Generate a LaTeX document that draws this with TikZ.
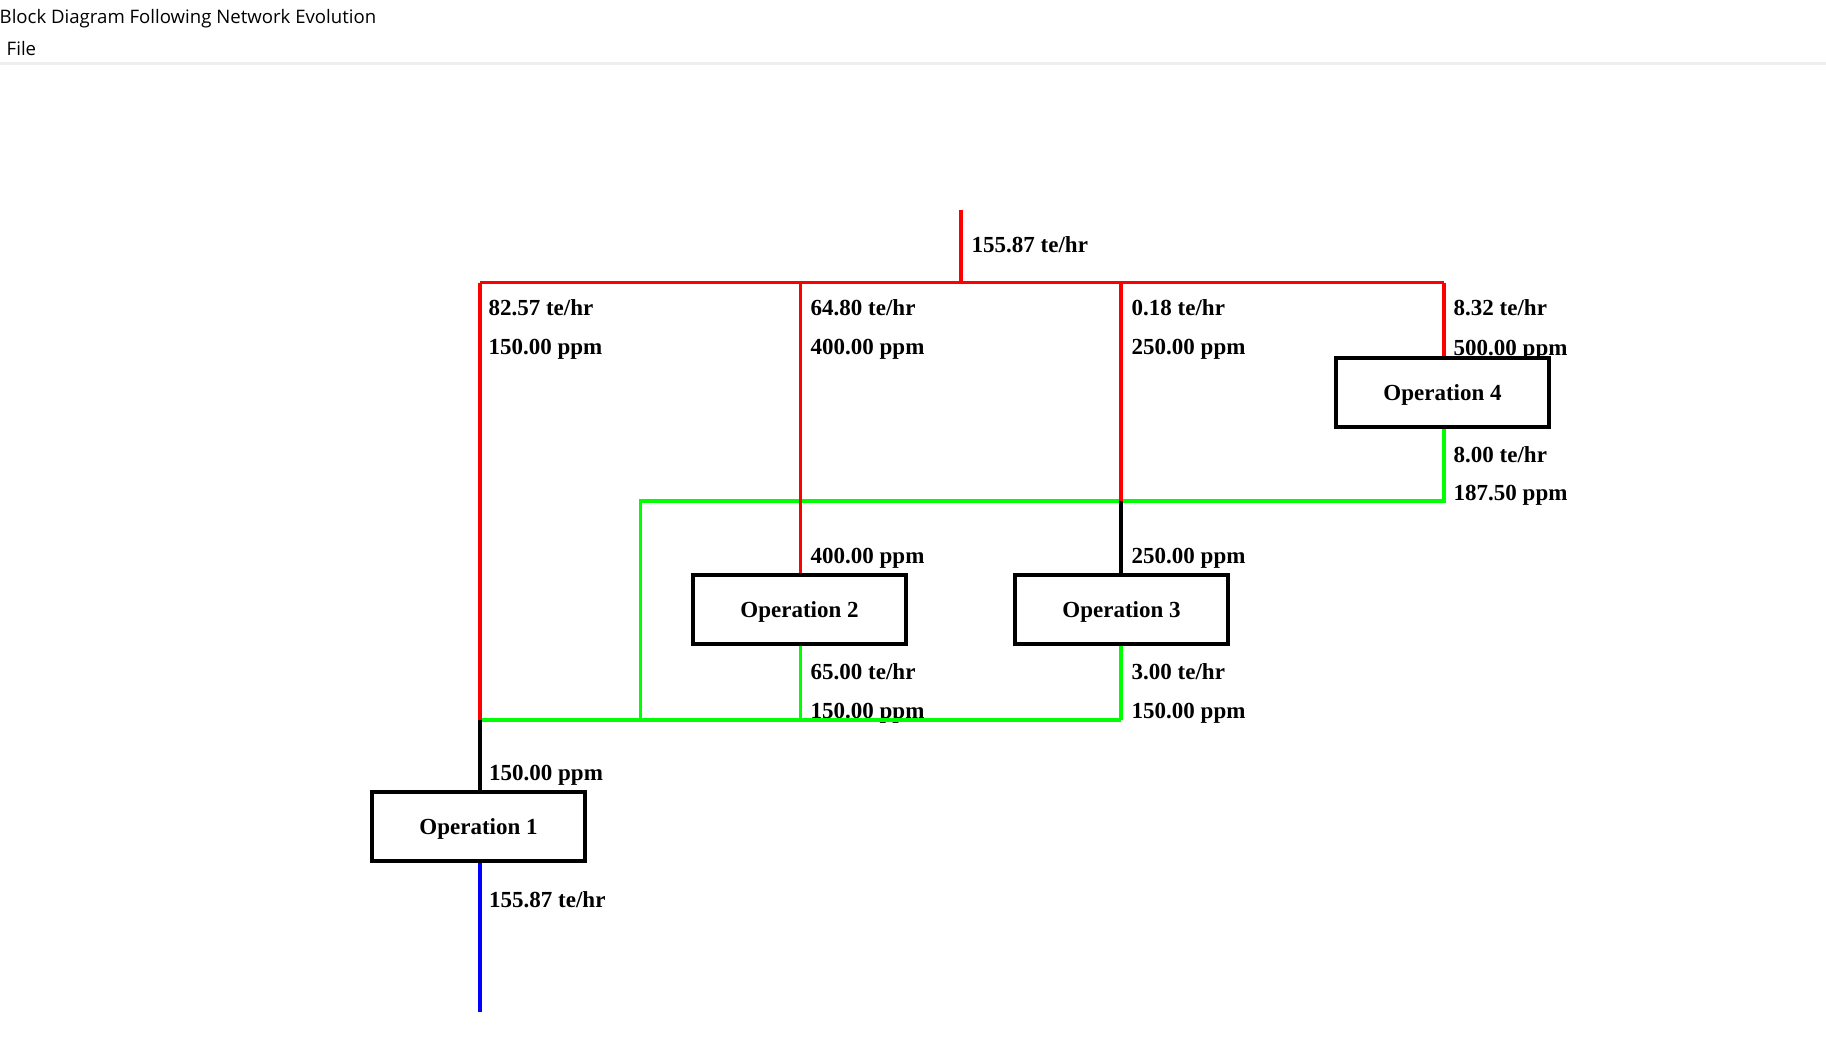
\documentclass[tikz,border=0pt]{standalone}
\usepackage{fontspec}
\setmainfont{Liberation Serif}
\newfontfamily\uifont{Open Sans}
\definecolor{pipered}{RGB}{255,0,0}
\definecolor{pipegreen}{RGB}{0,255,0}
\definecolor{pipeblue}{RGB}{0,0,255}
\definecolor{sepgray}{RGB}{238,238,238}
\begin{document}
\begin{tikzpicture}[x=1pt,y=-1pt,
  pipe/.style={line width=3.6pt},
  redpipe/.style={pipe,draw=pipered},
  greenpipe/.style={pipe,draw=pipegreen},
  bluepipe/.style={pipe,draw=pipeblue},
  blackpipe/.style={pipe,draw=black},
  opbox/.style={draw=black,line width=4pt,fill=white,minimum width=212.7pt,minimum height=69pt,
    inner sep=0pt,text height=16.5pt,text depth=0pt,font=\bfseries\fontsize{23}{27}\selectfont},
  lbl/.style={anchor=base west,inner sep=0pt,font=\bfseries\fontsize{23}{27}\selectfont},
  ui/.style={anchor=base west,inner sep=0pt,font=\uifont\fontsize{18.6}{22}\selectfont}]
\useasboundingbox[fill=white] (0,0) rectangle (1826,1062);

% window chrome
\node[ui] (title) at (-0.5,23.3) {Block Diagram Following Network Evolution};
\node[ui] (file) at (6.5,55.7) {File};
\fill[sepgray] (0,62) rectangle (1826,65.5);

% junction coordinates
\coordinate (feedtop) at (961,210);
\coordinate (feedj) at (961,282.5);
\coordinate (hl) at (480,282.5);
\coordinate (h2) at (800.5,282.5);
\coordinate (h3) at (1121,282.5);
\coordinate (hr) at (1444,282.5);
\coordinate (g4) at (1444,501);
\coordinate (j3) at (1121,501);
\coordinate (gl) at (640.5,501);
\coordinate (glb) at (640.5,720);
\coordinate (b1) at (480,720);
\coordinate (b2) at (800.5,720);
\coordinate (b3) at (1121,720);
\coordinate (outlet) at (480,1011.5);

% labels
\node[lbl] (l0) at (971.5,252.7) {155.87 te/hr};
\node[lbl] (l1a) at (488.3,315) {82.57 te/hr};
\node[lbl] (l1b) at (488.3,354.5) {150.00 ppm};
\node[lbl] (l2a) at (810.5,315) {64.80 te/hr};
\node[lbl] (l2b) at (810.5,354.5) {400.00 ppm};
\node[lbl] (l3a) at (1131.5,315) {0.18 te/hr};
\node[lbl] (l3b) at (1131.5,354.5) {250.00 ppm};
\node[lbl] (l4a) at (1453.5,315) {8.32 te/hr};
\node[lbl] (l4b) at (1453.5,355.5) {500.00 ppm};
\node[lbl] (l5a) at (1453.5,462) {8.00 te/hr};
\node[lbl] (l5b) at (1453.5,500.5) {187.50 ppm};
\node[lbl] (l6) at (810.5,563.5) {400.00 ppm};
\node[lbl] (l7) at (1131.5,563.5) {250.00 ppm};
\node[lbl] (l8a) at (810.5,679) {65.00 te/hr};
\node[lbl] (l8b) at (810.5,718) {150.00 ppm};
\node[lbl] (l9a) at (1131.5,679) {3.00 te/hr};
\node[lbl] (l9b) at (1131.5,718) {150.00 ppm};
\node[lbl] (l10) at (489,780.5) {150.00 ppm};
\node[lbl] (l11) at (489,907) {155.87 te/hr};

% green pipes
\draw[greenpipe] (1444,428) -- (g4) -- (gl) -- (glb);
\draw[greenpipe] (b1) -- (b3);
\draw[greenpipe] (800.5,645) -- (b2);
\draw[greenpipe] (1121,645) -- (b3);

% red pipes
\draw[redpipe] (feedtop) -- (feedj);
\draw[redpipe] (hl) -- (hr);
\draw[redpipe] (hl) -- (b1);
\draw[redpipe] (h2) -- (800.5,574);
\draw[redpipe] (h3) -- (j3);
\draw[redpipe] (hr) -- (1444,356);

% black pipes
\draw[blackpipe] (j3) -- (1121,574);
\draw[blackpipe] (b1) -- (480,791);

% blue outlet
\draw[bluepipe] (480,862) -- (outlet);

% operation boxes
\node[opbox] (op1) at (478.5,826.7) {Operation 1};
\node[opbox] (op2) at (799.5,609.7) {Operation 2};
\node[opbox] (op3) at (1121.5,609.7) {Operation 3};
\node[opbox] (op4) at (1442.5,392) {Operation 4};
\end{tikzpicture}
\end{document}
